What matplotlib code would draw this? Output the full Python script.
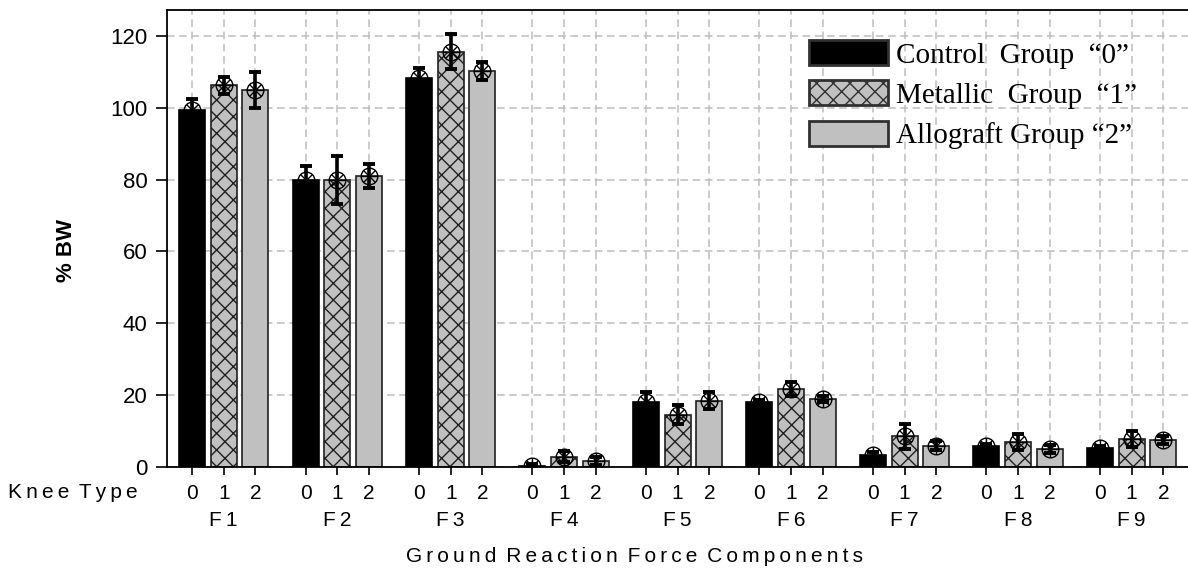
import numpy as np
import matplotlib
matplotlib.use("Agg")
import matplotlib.pyplot as plt
from matplotlib import transforms

# ------------------------------
# Data (% body weight, mean and SD)
# ------------------------------
components = ["F1", "F2", "F3", "F4", "F5", "F6", "F7", "F8", "F9"]
knee_types = ["0", "1", "2"]

control = [99.4, 79.9, 108.2, 0.3, 18.1, 18.1, 3.4, 5.9, 5.4]
control_sd = [3.0, 3.9, 2.8, 0.5, 2.8, 0.6, 0.8, 0.6, 0.5]

metallic = [106.2, 79.9, 115.6, 2.9, 14.6, 21.8, 8.5, 7.0, 7.9]
metallic_sd = [2.3, 6.6, 4.8, 1.6, 2.7, 1.9, 3.6, 2.3, 2.2]

allograft = [105.0, 81.0, 110.3, 1.7, 18.5, 19.0, 5.9, 5.0, 7.5]
allograft_sd = [5.0, 3.3, 2.5, 1.2, 2.3, 0.8, 1.2, 1.0, 1.0]

group_labels = ["Control  Group  \u201c0\u201d",
                "Metallic  Group  \u201c1\u201d",
                "Allograft Group \u201c2\u201d"]


def spaced(s):
    # letter-spaced text (thin space between letters) for the x axis labels
    return "\u2009 ".join("\u2009".join(word) for word in s.split(" "))


# ------------------------------
# Figure
# ------------------------------
plt.rcParams["font.family"] = ["Liberation Sans", "DejaVu Sans"]
plt.rcParams["hatch.color"] = "#303030"
plt.rcParams["hatch.linewidth"] = 1.0

W, H = 1188, 572
fig = plt.figure(figsize=(W / 100, H / 100), dpi=100)
ax = fig.add_axes([167 / W, 1 - 467 / H, (W - 167) / W, (467 - 10) / H])

group_step = 3.58
bar_w = 0.82
base = np.arange(len(components)) * group_step

series = [
    (control, control_sd, dict(color="black", edgecolor="black")),
    (metallic, metallic_sd, dict(color="#c0c0c0", edgecolor="#202020", hatch="xx")),
    (allograft, allograft_sd, dict(color="#c0c0c0", edgecolor="#202020")),
]

all_x = []
for i, (vals, sd, style) in enumerate(series):
    x = base + i
    all_x.append(x)
    ax.bar(x, vals, width=bar_w, linewidth=1.2, label=group_labels[i],
           zorder=2, **style)
    ax.errorbar(x, vals, yerr=sd, fmt="none", ecolor="black",
                elinewidth=2.6, capsize=4.5, capthick=2.8, zorder=4)
    # open circle with cross at each mean
    ax.plot(x, vals, "o", mfc="none", mec="black", ms=12, mew=1.0, zorder=5)
    ax.plot(x, vals, "+", color="black", ms=12, mew=1.0, zorder=5)
    ax.plot(x, vals, "x", color="black", ms=8, mew=1.0, zorder=5)

ticks = np.sort(np.concatenate(all_x))
ax.set_xticks(ticks)
ax.set_xticklabels(knee_types * len(components))
ax.set_xlim(-0.79, 31.42)
ax.set_ylim(0, 127.2)
ax.set_yticks(np.arange(0, 121, 20))

ax.tick_params(axis="x", length=6, width=1.2, pad=6, labelsize=15)
ax.tick_params(axis="y", length=8, width=1.2, pad=6, labelsize=16)

ax.grid(True, linestyle=(0, (5, 3)), color="#bdbdbd", linewidth=1.1)
ax.set_axisbelow(True)
ax.spines["right"].set_visible(False)
for side in ["left", "bottom", "top"]:
    ax.spines[side].set_linewidth(1.3)

# component names under each group of bars
trans = transforms.blended_transform_factory(ax.transData, fig.transFigure)
for g, name in enumerate(components):
    ax.text(base[g] + 1, 1 - 521 / H, spaced(name), transform=trans,
            ha="center", va="center", fontsize=15)

fig.text(8 / W, 1 - 493 / H, spaced("Knee Type"), ha="left", va="center",
         fontsize=15)
fig.text(634 / W, 1 - 556 / H, spaced("Ground Reaction Force Components"),
         ha="center", va="center", fontsize=15)
fig.text(66 / W, 1 - 251 / H, "% BW", rotation=90, ha="center", va="center",
         fontsize=16, fontweight="bold")

leg = ax.legend(loc="upper left", bbox_to_anchor=(809 / W, 1 - 40 / H),
                bbox_transform=fig.transFigure, frameon=False,
                prop={"family": "Liberation Serif", "size": 21},
                handlelength=2.7, handleheight=0.95, handletextpad=0.3,
                labelspacing=0.4, borderpad=0, borderaxespad=0)
for patch in leg.get_patches():
    patch.set_linewidth(2.0)
    patch.set_edgecolor("#303030")

fig.savefig("out.png", dpi=100)
